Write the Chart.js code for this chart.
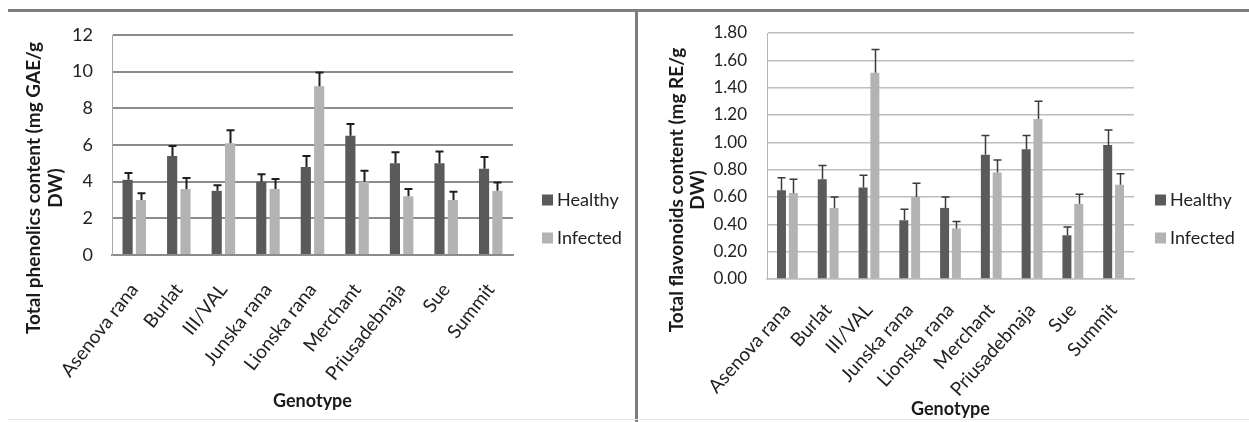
<!DOCTYPE html>
<html><head><meta charset="utf-8">
<script src="https://cdn.jsdelivr.net/npm/chart.js@4.4.1/dist/chart.umd.min.js"></script>
<style>
html,body{margin:0;padding:0;background:#fff;width:1249px;height:422px;overflow:hidden;position:relative;font-family:Lato, sans-serif}
#c1{position:absolute;left:0;top:0;width:634px;height:422px}
#c2{position:absolute;left:640px;top:0;width:609px;height:422px}
.line{position:absolute;background:#7d7d7d}
</style></head><body>
<div class="line" style="left:8px;top:9px;width:1241px;height:3px"></div>
<div class="line" style="left:635px;top:9px;width:3px;height:413px"></div>
<div class="line" style="left:8px;top:419px;width:1241px;height:1px;background:#e6e6e6"></div>
<canvas id="c1" width="634" height="422"></canvas>
<canvas id="c2" width="609" height="422"></canvas>
<script>
const categories = ['Asenova rana','Burlat','III/VAL','Junska rana','Lionska rana','Merchant','Priusadebnaja','Sue','Summit'];
const seriesNames = ['Healthy','Infected'];
const phenolicsHealthy    = [4.1, 5.4, 3.5, 4.0, 4.8, 6.5, 5.0, 5.0, 4.7];
const phenolicsHealthyErr = [0.37,0.55,0.30,0.40,0.60,0.65,0.60,0.65,0.65];
const phenolicsInfected   = [3.0, 3.6, 6.1, 3.6, 9.2, 4.0, 3.2, 3.0, 3.5];
const phenolicsInfectedErr= [0.37,0.60,0.70,0.55,0.75,0.60,0.40,0.45,0.45];
const flavonoidsHealthy    = [0.65,0.73,0.67,0.43,0.52,0.91,0.95,0.32,0.98];
const flavonoidsHealthyErr = [0.09,0.10,0.09,0.08,0.08,0.14,0.10,0.06,0.11];
const flavonoidsInfected   = [0.63,0.52,1.51,0.60,0.37,0.78,1.17,0.55,0.69];
const flavonoidsInfectedErr= [0.10,0.08,0.17,0.10,0.05,0.09,0.13,0.07,0.08];
const phenolicsTicks  = ['0','2','4','6','8','10','12'];
const flavonoidsTicks = ['0.00','0.20','0.40','0.60','0.80','1.00','1.20','1.40','1.60','1.80'];
const phenolicsTitle  = ['Total phenolics content (mg GAE/g','DW)'];
const flavonoidsTitle = ['Total flavonoids content (mg RE/g','DW)'];
const xTitle = 'Genotype';

const COLORS = ['#5a5a5a','#b3b3b3'];
Chart.defaults.font.family = 'Lato, sans-serif';
Chart.defaults.color = '#222';

const errorBarPlugin = {
  id: 'errorBars',
  afterDatasetsDraw(chart, args, opts) {
    const ctx = chart.ctx, ys = chart.scales.y;
    ctx.save();
    ctx.strokeStyle = opts.color; ctx.lineWidth = opts.width;
    chart.data.datasets.forEach((ds, di) => {
      const meta = chart.getDatasetMeta(di);
      meta.data.forEach((el, i) => {
        const v = ds.data[i], e = ds.errors[i];
        const y0 = ys.getPixelForValue(v), y1 = ys.getPixelForValue(v + e);
        const x = Math.round(el.x) + 0.5;
        ctx.beginPath();
        ctx.moveTo(x, y0); ctx.lineTo(x, y1);
        ctx.moveTo(x - opts.cap, y1); ctx.lineTo(x + opts.cap, y1);
        ctx.stroke();
      });
    });
    ctx.restore();
  }
};
const sideTextPlugin = {
  id: 'sideText',
  afterDraw(chart, args, opts) {
    const ctx = chart.ctx;
    ctx.save();
    ctx.font = opts.titleFont;
    ctx.fillStyle = '#1a1a1a';
    ctx.textAlign = 'center'; ctx.textBaseline = 'middle';
    opts.title.forEach((t, i) => {
      ctx.save();
      ctx.translate(opts.titleX[i], opts.titleY);
      ctx.rotate(-Math.PI / 2);
      ctx.fillText(t, 0, 0);
      ctx.restore();
    });
    ctx.font = opts.legendFont;
    ctx.textAlign = 'left';
    chart.data.datasets.forEach((ds, i) => {
      const y = opts.legendY[i];
      ctx.fillStyle = ds.backgroundColor;
      ctx.fillRect(opts.legendX, y - opts.box / 2, opts.box, opts.box);
      ctx.fillStyle = '#222';
      ctx.fillText(ds.label, opts.legendX + opts.box + 4, y);
    });
    ctx.restore();
  }
};

function makeChart(id, cfg) {
  return new Chart(document.getElementById(id), {
    type: 'bar',
    data: {
      labels: categories,
      datasets: [
        {label: seriesNames[0], data: cfg.h, errors: cfg.he, backgroundColor: COLORS[0],
         categoryPercentage: cfg.catPct, barPercentage: cfg.barPct},
        {label: seriesNames[1], data: cfg.i, errors: cfg.ie, backgroundColor: COLORS[1],
         categoryPercentage: cfg.catPct, barPercentage: cfg.barPct}
      ]
    },
    options: {
      responsive: false, animation: false,
      layout: {padding: {left: 0, top: cfg.top, right: cfg.padRight, bottom: 0}},
      plugins: {
        legend: {display: false}, tooltip: {enabled: false},
        errorBars: {color: cfg.errColor, width: cfg.errWidth, cap: 4},
        sideText: {title: cfg.title, titleX: cfg.titleX, titleY: cfg.titleY, titleFont: 'bold 19px Lato',
                   legendX: cfg.legendX, legendY: [200, 238], box: 11, legendFont: '18px Lato'}
      },
      scales: {
        x: {
          grid: {display: false, drawTicks: false},
          border: {display: true, color: cfg.gridColor, width: cfg.gridWidth},
          ticks: {autoSkip: false, minRotation: cfg.rot, maxRotation: cfg.rot, padding: cfg.catPad,
                  font: {size: cfg.catFont}, color: '#222'},
          title: {display: true, text: xTitle, font: {size: 18, weight: 'bold'}, color: '#1a1a1a',
                  padding: {top: 0, bottom: cfg.xTitlePad}},
          afterFit(s) { s.height = cfg.xHeight; }
        },
        y: {
          min: 0, max: cfg.max,
          grid: {color: cfg.gridColor, lineWidth: cfg.gridWidth, drawTicks: false},
          border: {display: true, color: cfg.axisColor, width: 1},
          ticks: {stepSize: cfg.step, padding: cfg.tickPad, font: {size: cfg.tickFont}, color: '#222',
                  callback: (v, idx) => cfg.ticks[idx]},
          afterFit(s) { s.width = cfg.yWidth; }
        }
      }
    },
    plugins: [errorBarPlugin, sideTextPlugin]
  });
}

makeChart('c1', {
  h: phenolicsHealthy, he: phenolicsHealthyErr, i: phenolicsInfected, ie: phenolicsInfectedErr,
  max: 12, step: 2, ticks: phenolicsTicks, title: phenolicsTitle,
  top: 35, padRight: 121, yWidth: 112, xHeight: 167, tickPad: 19, tickFont: 18,
  catPct: 0.6, barPct: 0.76, catFont: 19, catPad: 24, rot: 52, xTitlePad: 10,
  gridColor: '#8c8c8c', gridWidth: 2, axisColor: '#a8a8a8',
  errColor: '#1e1e1e', errWidth: 2,
  titleX: [34, 56], titleY: 188, legendX: 542
});
makeChart('c2', {
  h: flavonoidsHealthy, he: flavonoidsHealthyErr, i: flavonoidsInfected, ie: flavonoidsInfectedErr,
  max: 1.8, step: 0.2, ticks: flavonoidsTicks, title: flavonoidsTitle,
  top: 33, padRight: 115, yWidth: 127, xHeight: 143, tickPad: 20, tickFont: 17,
  catPct: 0.58, barPct: 0.76, catFont: 19, catPad: 20, rot: 48, xTitlePad: 2,
  gridColor: '#bdbdbd', gridWidth: 1.5, axisColor: '#b5b5b5',
  errColor: '#3a3a3a', errWidth: 1.5,
  titleX: [37, 58], titleY: 190, legendX: 515
});
</script>
</body></html>
